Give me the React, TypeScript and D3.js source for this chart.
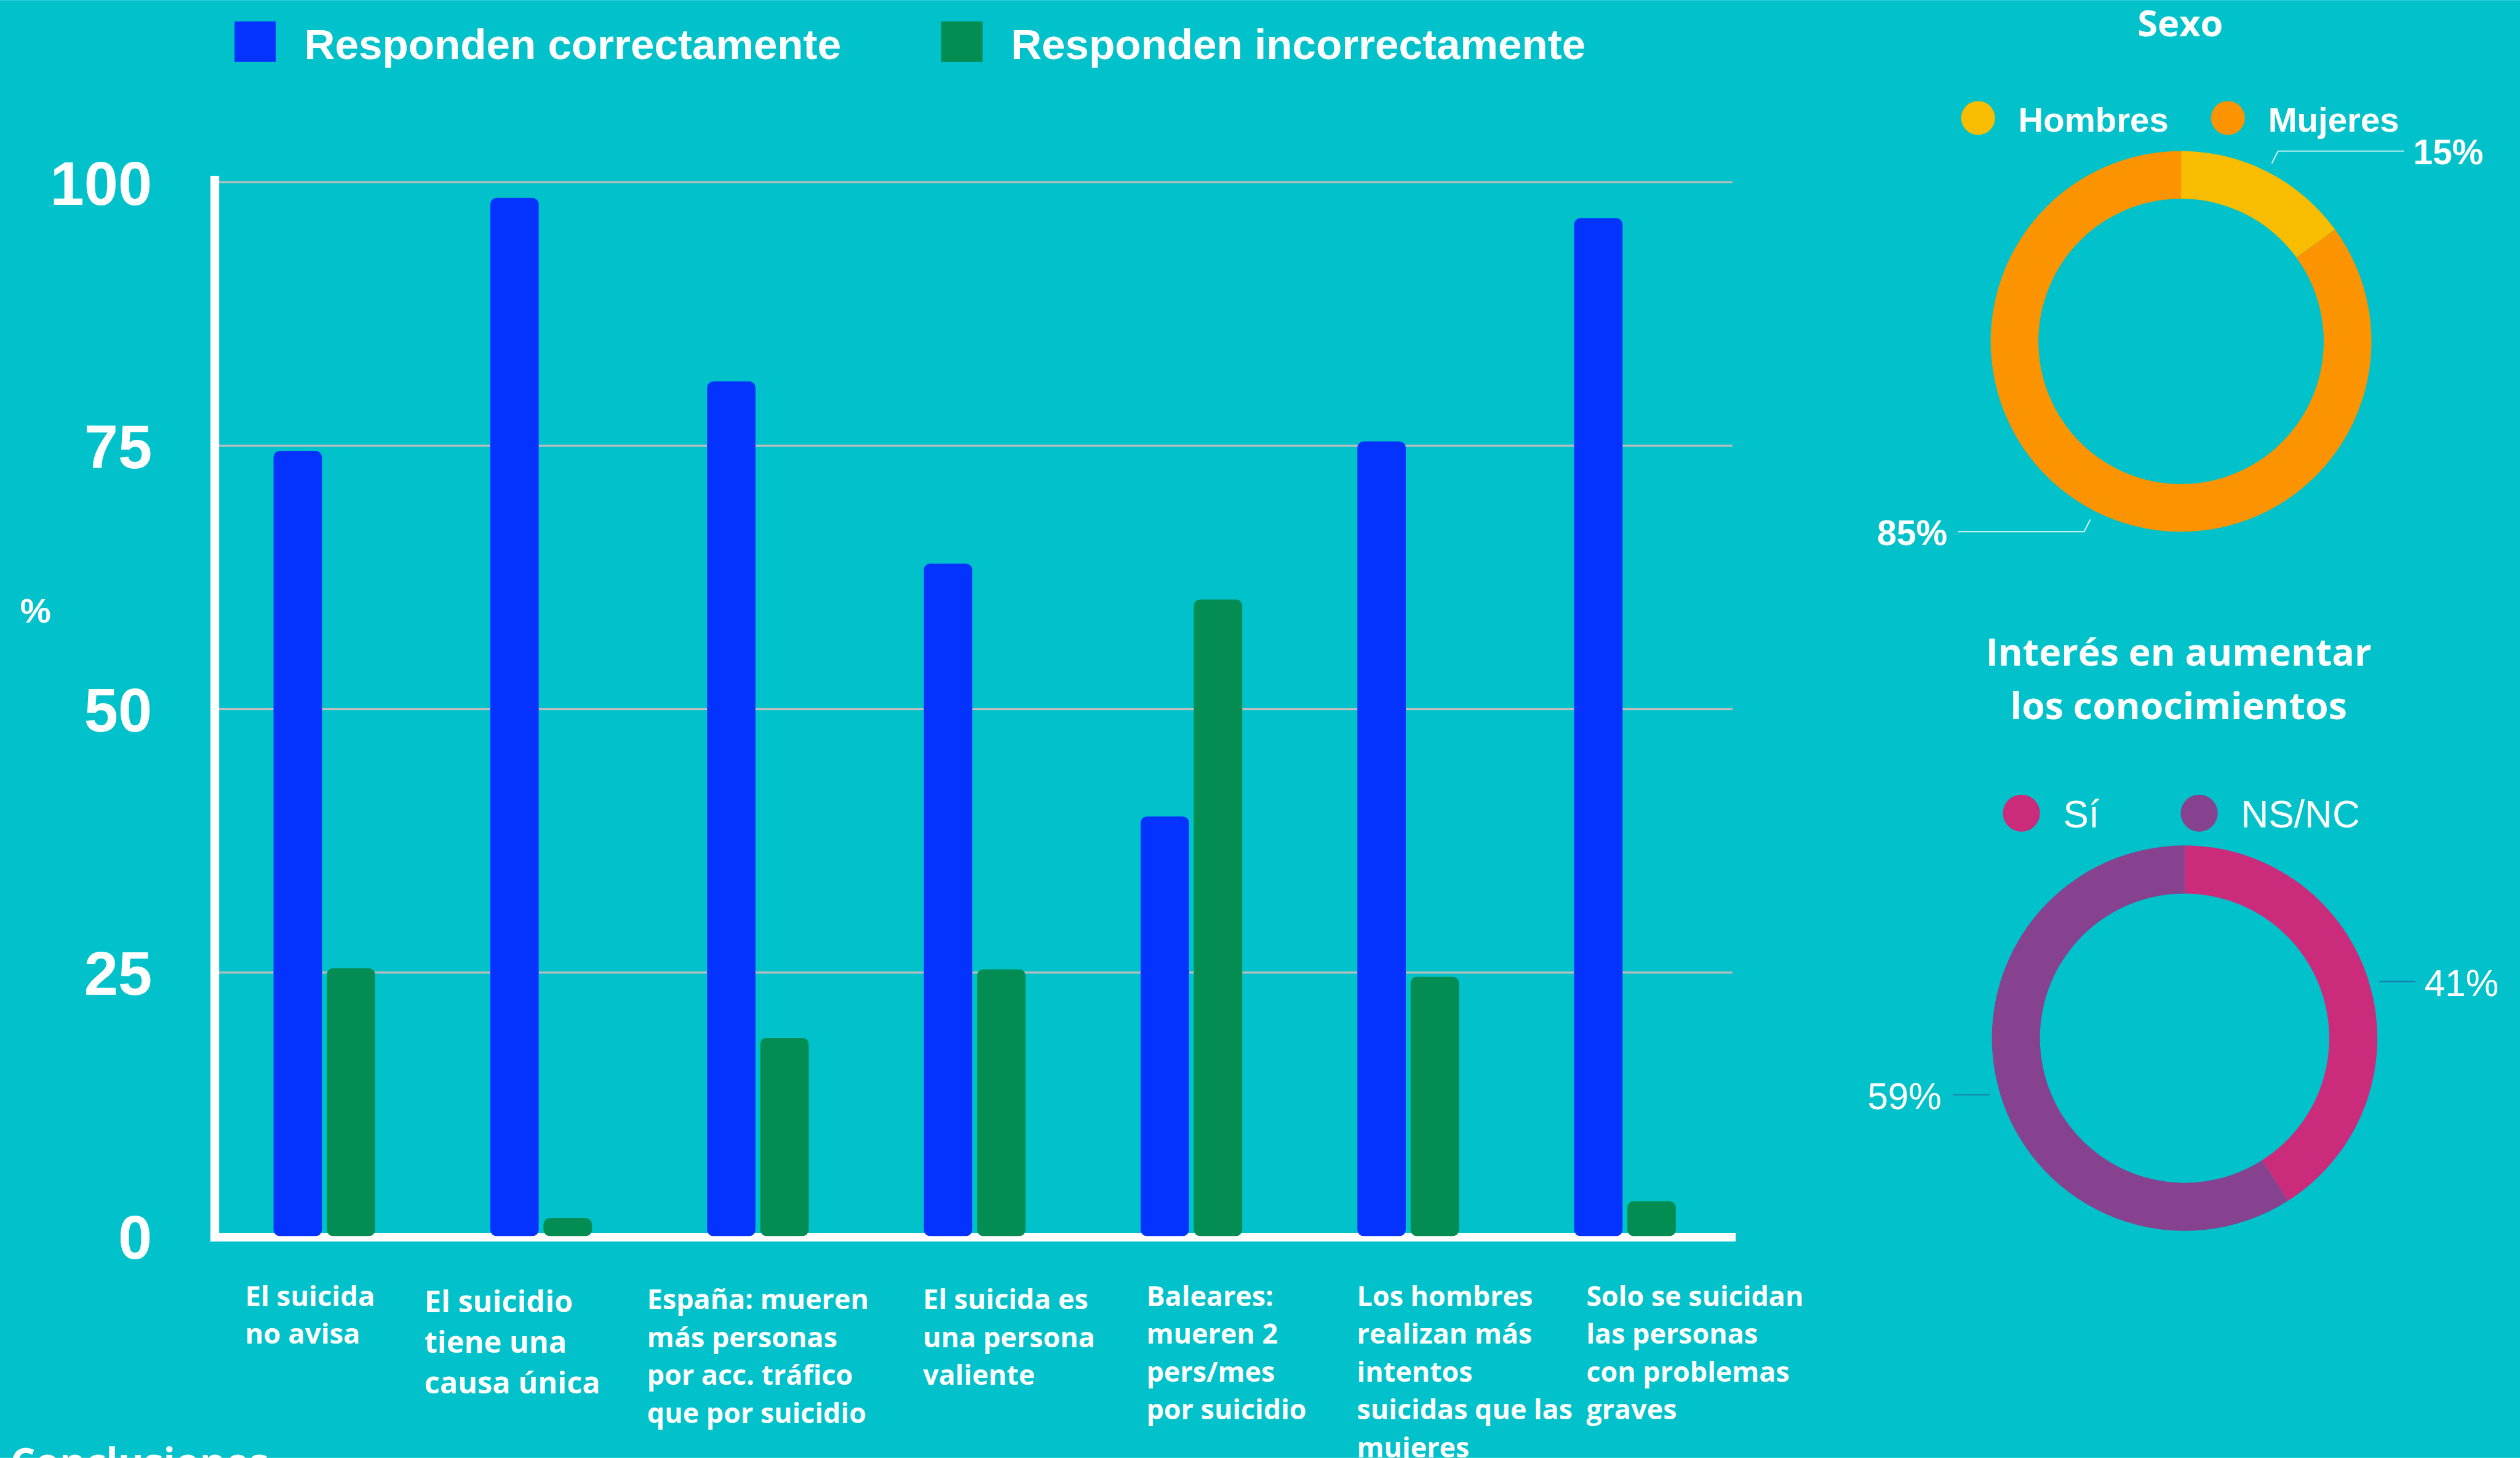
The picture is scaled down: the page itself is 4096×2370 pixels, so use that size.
import React from 'react';
import * as d3 from 'd3';

// ---------- DATA ----------
const categories: string[][] = [
  ['El suicida', 'no avisa'],
  ['El suicidio', 'tiene una', 'causa única'],
  ['España: mueren', 'más personas', 'por acc. tráfico', 'que por suicidio'],
  ['El suicida es', 'una persona', 'valiente'],
  ['Baleares:', 'mueren 2', 'pers/mes', 'por suicidio'],
  ['Los hombres', 'realizan más', 'intentos', 'suicidas que las', 'mujeres'],
  ['Solo se suicidan', 'las personas', 'con problemas', 'graves'],
];
const correct = [74.5, 98.5, 81.1, 63.8, 39.8, 75.4, 96.6];
const incorrect = [25.4, 1.7, 18.8, 25.3, 60.4, 24.6, 3.3];
const yTicks = [0, 25, 50, 75, 100];
const seriesNames = ['Responden correctamente', 'Responden incorrectamente'];
const seriesColors = ['#0433FF', '#038D52'];

const sexoTitle = 'Sexo';
const sexoLabels = ['Hombres', 'Mujeres'];
const sexoValues = [15, 85];
const sexoColors = ['#F8BC00', '#FC9300'];

const interesTitle = ['Interés en aumentar', 'los conocimientos'];
const interesLabels = ['Sí', 'NS/NC'];
const interesValues = [41, 59];
const interesColors = ['#CB2B7B', '#86428E'];

const footerText = 'Conclusiones';

// ---------- LAYOUT (reference pixel space, scaled by viewBox) ----------
const W = 6394;
const H = 3699;
const BG = '#01C2CB';
const labelDx = [-72, -167, -152, -2, 15, -1, 31];
const labelBase = [3313, 3329, 3322, 3322, 3313, 3313, 3313];
const labelSize = [71, 76, 70, 70, 70, 70, 70];
const labelLH = [96, 103, 96, 96, 96, 96, 96];

const SANS = "'Liberation Sans', Arial, Helvetica, sans-serif";
const OPEN = "'Open Sans', 'Noto Sans', sans-serif";

export default function App() {
  const x0 = d3.scaleBand<number>().domain(d3.range(categories.length)).range([548, 4398]);
  const groupW = 258;
  const x1 = d3.scaleBand<number>().domain([0, 1]).range([0, groupW]).paddingInner(0.09);
  const y = d3.scaleLinear().domain([0, 100]).range([3136, 462]);
  const series = [correct, incorrect];

  const pie = d3.pie<number>().sort(null).value((d) => d);

  // Donut 1
  const c1 = { x: 5534, y: 866 };
  const arc1 = d3.arc<d3.PieArcDatum<number>>().innerRadius(362).outerRadius(483);
  const arcs1 = pie(sexoValues);
  // Donut 2
  const c2 = { x: 5543, y: 2634 };
  const arc2 = d3.arc<d3.PieArcDatum<number>>().innerRadius(367).outerRadius(489);
  const arcs2 = pie(interesValues);

  const polar = (c: { x: number; y: number }, a: number, r: number) => ({
    x: c.x + r * Math.sin(a),
    y: c.y - r * Math.cos(a),
  });

  const fmt = (v: number) => `${v}%`;

  return (
    <svg
      width={4096}
      height={2370}
      viewBox={`0 0 ${W} ${H}`}
      style={{ position: 'absolute', left: 0, top: 0, display: 'block' }}
    >
      <rect x={0} y={0} width={W} height={H} fill={BG} />

      {/* Legend */}
      {seriesNames.map((n, i) => {
        const lx = [595, 2388][i];
        return (
          <g key={n}>
            <rect x={lx} y={54} width={105} height={103} fill={seriesColors[i]} />
            <text x={lx + 177} y={150} fill="#fff" fontFamily={SANS} fontWeight={700} fontSize={108}>
              {n}
            </text>
          </g>
        );
      })}

      {/* Gridlines */}
      {yTicks.filter((t) => t > 0).map((t) => (
        <line key={t} x1={556} x2={4396} y1={y(t)} y2={y(t)} stroke="#BDBDBD" strokeWidth={5} />
      ))}

      {/* Y tick labels */}
      {yTicks.map((t) => (
        <text
          key={t}
          x={386}
          y={y(t) + 57}
          textAnchor="end"
          fill="#fff"
          fontFamily={SANS}
          fontWeight={700}
          fontSize={155}
        >
          {t}
        </text>
      ))}
      <text x={51} y={1579} fill="#fff" fontFamily={SANS} fontWeight={700} fontSize={88}>
        %
      </text>

      {/* Axes */}
      <rect x={534} y={446} width={22} height={2704} fill="#fff" />
      <rect x={534} y={3128} width={3870} height={22} fill="#fff" />

      {/* Bars */}
      {categories.map((_, i) => {
        const gx = (x0(i) as number) + (x0.bandwidth() - groupW) / 2;
        return (
          <g key={i}>
            {series.map((s, k) => (
              <rect
                key={k}
                x={gx + (x1(k) as number)}
                y={y(s[i])}
                width={x1.bandwidth()}
                height={y(0) - y(s[i])}
                rx={16}
                ry={16}
                fill={seriesColors[k]}
              />
            ))}
          </g>
        );
      })}

      {/* X labels */}
      {categories.map((lines, i) => {
        const gx = (x0(i) as number) + (x0.bandwidth() - groupW) / 2;
        return (
          <text
            key={i}
            x={gx + labelDx[i]}
            y={labelBase[i]}
            fill="#fff"
            fontFamily={OPEN}
            fontWeight={700}
            fontSize={labelSize[i]}
          >
            {lines.map((l, j) => (
              <tspan key={j} x={gx + labelDx[i]} dy={j === 0 ? 0 : labelLH[i]}>
                {l}
              </tspan>
            ))}
          </text>
        );
      })}

      {/* Footer */}
      <text x={26} y={3746} fill="#fff" fontFamily={OPEN} fontWeight={700} fontSize={100}>
        {footerText}
      </text>

      {/* Donut 1: Sexo */}
      <text x={5532} y={91} textAnchor="middle" fill="#fff" fontFamily={OPEN} fontWeight={700} fontSize={93}>
        {sexoTitle}
      </text>
      {sexoLabels.map((l, i) => {
        const cx = [5019, 5653][i];
        return (
          <g key={l}>
            <circle cx={cx} cy={299} r={43} fill={sexoColors[i]} />
            <text x={cx + 102} y={333} fill="#fff" fontFamily={SANS} fontWeight={700} fontSize={88}>
              {l}
            </text>
          </g>
        );
      })}
      <g transform={`translate(${c1.x},${c1.y})`}>
        {arcs1.map((a, i) => (
          <path key={i} d={arc1(a) as string} fill={sexoColors[i]} />
        ))}
      </g>
      {arcs1.map((a, i) => {
        const mid = (a.startAngle + a.endAngle) / 2;
        const p1 = polar(c1, mid, 507);
        const p2 = polar(c1, mid, 542);
        const right = Math.sin(mid) > 0;
        const p3 = { x: p2.x + (right ? 320 : -320), y: p2.y };
        return (
          <g key={i}>
            <polyline
              points={`${p1.x},${p1.y} ${p2.x},${p2.y} ${p3.x},${p3.y}`}
              fill="none"
              stroke="#E4F6F6"
              strokeWidth={3}
            />
            <text
              x={p3.x + (right ? 23 : -27)}
              y={p3.y + 34}
              textAnchor={right ? 'start' : 'end'}
              fill="#fff"
              fontFamily={SANS}
              fontWeight={700}
              fontSize={89}
            >
              {fmt(a.data)}
            </text>
          </g>
        );
      })}

      {/* Donut 2: Interés */}
      {interesTitle.map((t, i) => (
        <text
          key={i}
          x={5528}
          y={1689 + i * 136}
          textAnchor="middle"
          fill="#fff"
          fontFamily={OPEN}
          fontWeight={700}
          fontSize={95}
        >
          {t}
        </text>
      ))}
      {interesLabels.map((l, i) => {
        const cx = [5129, 5580][i];
        return (
          <g key={l}>
            <circle cx={cx} cy={2063} r={47} fill={interesColors[i]} />
            <text x={cx + 106} y={2099} fill="#fff" fontFamily={SANS} fontWeight={400} fontSize={97}>
              {l}
            </text>
          </g>
        );
      })}
      <g transform={`translate(${c2.x},${c2.y})`}>
        {arcs2.map((a, i) => (
          <path key={i} d={arc2(a) as string} fill={interesColors[i]} />
        ))}
      </g>
      {arcs2.map((a, i) => {
        const mid = (a.startAngle + a.endAngle) / 2;
        const p1 = polar(c2, mid, 515);
        const right = Math.sin(mid) > 0;
        const p2 = { x: p1.x + (right ? 91 : -93), y: p1.y };
        return (
          <g key={i}>
            <line x1={p1.x} y1={p1.y} x2={p2.x} y2={p2.y} stroke="#1F78A8" strokeWidth={3} />
            <text
              x={p2.x + (right ? 23 : -29)}
              y={p2.y + 37}
              textAnchor={right ? 'start' : 'end'}
              fill="#fff"
              fontFamily={SANS}
              fontWeight={400}
              fontSize={94}
            >
              {fmt(a.data)}
            </text>
          </g>
        );
      })}
    </svg>
  );
}
